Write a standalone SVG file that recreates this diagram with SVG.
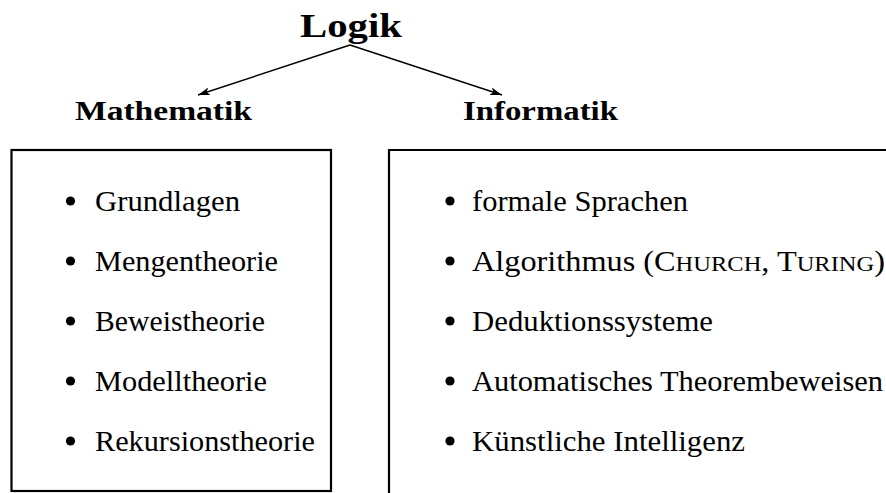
<svg xmlns="http://www.w3.org/2000/svg" width="886" height="493" viewBox="0 0 886 493">
  <style>
    text { font-family: "Liberation Serif", "Times New Roman", serif; fill: #000; }
    .title { font-size: 34px; font-weight: bold; }
    .head { font-size: 28px; font-weight: bold; }
    .item { font-size: 29px; }
    .sc { font-size: 22px; }
    .box { fill: none; stroke: #000; stroke-width: 2.2; }
    .edge { fill: none; stroke: #000; stroke-width: 1.4; }
    .dot { fill: #000; }
  </style>
  <defs>
    <marker id="arrow" viewBox="0 0 12 8" refX="12" refY="4" markerWidth="12" markerHeight="8" markerUnits="userSpaceOnUse" orient="auto">
      <path d="M0,0 L12,4 L0,8 L3,4 Z" fill="#000"/>
    </marker>
  </defs>

  <!-- root -->
  <g id="logik">
    <text class="title" x="300" y="37" textLength="102" lengthAdjust="spacingAndGlyphs">Logik</text>
  </g>

  <!-- branch labels -->
  <g id="mathematik">
    <text class="head" x="75" y="120" textLength="177" lengthAdjust="spacingAndGlyphs">Mathematik</text>
  </g>
  <g id="informatik">
    <text class="head" x="463" y="120" textLength="155" lengthAdjust="spacingAndGlyphs">Informatik</text>
  </g>

  <!-- connectors -->
  <g id="connectors">
    <line class="edge" x1="350" y1="45" x2="198" y2="95" marker-end="url(#arrow)"/>
    <line class="edge" x1="350" y1="45" x2="502" y2="95" marker-end="url(#arrow)"/>
  </g>

  <!-- mathematics topics -->
  <g id="math-box">
    <rect class="box" x="11.5" y="150" width="319.5" height="341"/>
    <circle class="dot" cx="70.5" cy="201" r="4.6"/>
    <text class="item" x="95" y="211" textLength="145" lengthAdjust="spacingAndGlyphs">Grundlagen</text>
    <circle class="dot" cx="70.5" cy="261" r="4.6"/>
    <text class="item" x="95" y="271" textLength="183" lengthAdjust="spacingAndGlyphs">Mengentheorie</text>
    <circle class="dot" cx="70.5" cy="321" r="4.6"/>
    <text class="item" x="95" y="331" textLength="170" lengthAdjust="spacingAndGlyphs">Beweistheorie</text>
    <circle class="dot" cx="70.5" cy="381" r="4.6"/>
    <text class="item" x="95" y="391" textLength="172" lengthAdjust="spacingAndGlyphs">Modelltheorie</text>
    <circle class="dot" cx="70.5" cy="441" r="4.6"/>
    <text class="item" x="95" y="451" textLength="220" lengthAdjust="spacingAndGlyphs">Rekursionstheorie</text>
  </g>

  <!-- computer science topics (box runs past the right and bottom edge) -->
  <g id="info-box">
    <path class="box" d="M389,500 V150 H900"/>
    <circle class="dot" cx="450" cy="201" r="4.6"/>
    <text class="item" x="472" y="211" textLength="216" lengthAdjust="spacingAndGlyphs">formale Sprachen</text>
    <circle class="dot" cx="450" cy="261" r="4.6"/>
    <text class="item" x="472" y="271" textLength="413" lengthAdjust="spacingAndGlyphs">Algorithmus (C<tspan class="sc">HURCH</tspan>, T<tspan class="sc">URING</tspan>)</text>
    <circle class="dot" cx="450" cy="321" r="4.6"/>
    <text class="item" x="472" y="331" textLength="241" lengthAdjust="spacingAndGlyphs">Deduktionssysteme</text>
    <circle class="dot" cx="450" cy="381" r="4.6"/>
    <text class="item" x="472" y="391" textLength="411" lengthAdjust="spacingAndGlyphs">Automatisches Theorembeweisen</text>
    <circle class="dot" cx="450" cy="441" r="4.6"/>
    <text class="item" x="472" y="451" textLength="273" lengthAdjust="spacingAndGlyphs">Künstliche Intelligenz</text>
  </g>
</svg>
